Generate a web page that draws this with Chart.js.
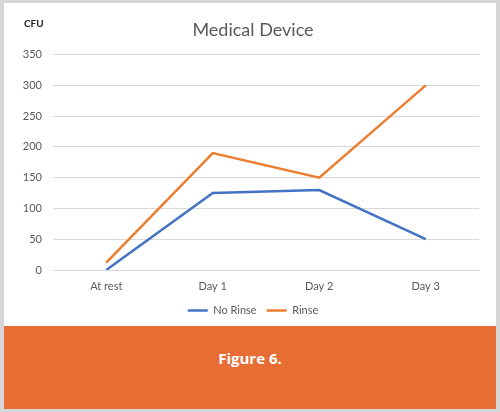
<!DOCTYPE html>
<html>
<head>
<meta charset="utf-8">
<script src="https://cdn.jsdelivr.net/npm/chart.js@4/dist/chart.umd.min.js"></script>
<style>
  html, body { margin: 0; padding: 0; }
  body { width: 500px; height: 412px; background: #d6d6d6; position: relative; overflow: hidden; }
  #panel { position: absolute; left: 4px; top: 3px; width: 492px; height: 323px; background: #ffffff; overflow: hidden; }
  #wrap { position: absolute; left: 0; top: 0; width: 498px; height: 323px; }
  #cfu { position: absolute; left: 20px; top: 14px; font-family: Lato, "Open Sans", sans-serif; font-size: 10px; font-weight: bold; color: #222; }
  #banner { position: absolute; left: 4px; top: 326px; width: 492px; height: 83px; background: #E76D34;
            color: #ffffff; font-family: "Open Sans", Lato, sans-serif; font-weight: bold; font-size: 15px;
            box-sizing: border-box; padding-top: 22px; text-align: center; }
</style>
</head>
<body>
<div id="panel">
  <div id="wrap"><canvas id="c"></canvas></div>
  <div id="cfu">CFU</div>
</div>
<div id="banner">Figure 6.</div>
<script>
const categories = ["At rest", "Day 1", "Day 2", "Day 3"];
const noRinse = [0, 125, 130, 50];
const rinse = [12, 190, 150, 300];
const yTicks = [0, 50, 100, 150, 200, 250, 300, 350];

const textColor = "#595959";
const fontFam = "Lato, 'Open Sans', sans-serif";

new Chart(document.getElementById("c"), {
  type: "line",
  data: {
    labels: categories,
    datasets: [
      { label: "No Rinse", data: noRinse, borderColor: "#4472C4", backgroundColor: "#4472C4", borderWidth: 2.5, pointRadius: 0, tension: 0 },
      { label: "Rinse", data: rinse, borderColor: "#ED7D31", backgroundColor: "#ED7D31", borderWidth: 2.5, pointRadius: 0, tension: 0 }
    ]
  },
  options: {
    responsive: true,
    maintainAspectRatio: false,
    animation: false,
    layout: { padding: { left: 23, right: 23, top: 2, bottom: 0 } },
    plugins: {
      title: {
        display: true, text: "Medical Device", color: textColor,
        font: { family: fontFam, size: 18, weight: "normal" },
        padding: { top: 14, bottom: 14 }
      },
      legend: {
        position: "bottom",
        labels: {
          color: textColor, font: { family: fontFam, size: 11 },
          usePointStyle: true, pointStyle: "line", pointStyleWidth: 20, boxWidth: 20, padding: 10
        }
      },
      tooltip: { enabled: false }
    },
    scales: {
      x: {
        offset: true,
        afterFit: (s) => { s.height = 25; s._computeLabelArea = () => null; },
        grid: { display: false, drawTicks: false },
        border: { display: false },
        ticks: { color: textColor, font: { family: fontFam, size: 11 }, padding: 10 }
      },
      y: {
        min: 0, max: 350,
        afterBuildTicks: (s) => { s.ticks = yTicks.map(v => ({ value: v })); },
        afterFit: (s) => { s.width = 26; s._computeLabelArea = () => null; },
        grid: { color: "#d9d9d9", lineWidth: 1, drawTicks: false },
        border: { display: false },
        ticks: { color: textColor, font: { family: fontFam, size: 11 }, padding: 11 }
      }
    }
  }
});
</script>
</body>
</html>
